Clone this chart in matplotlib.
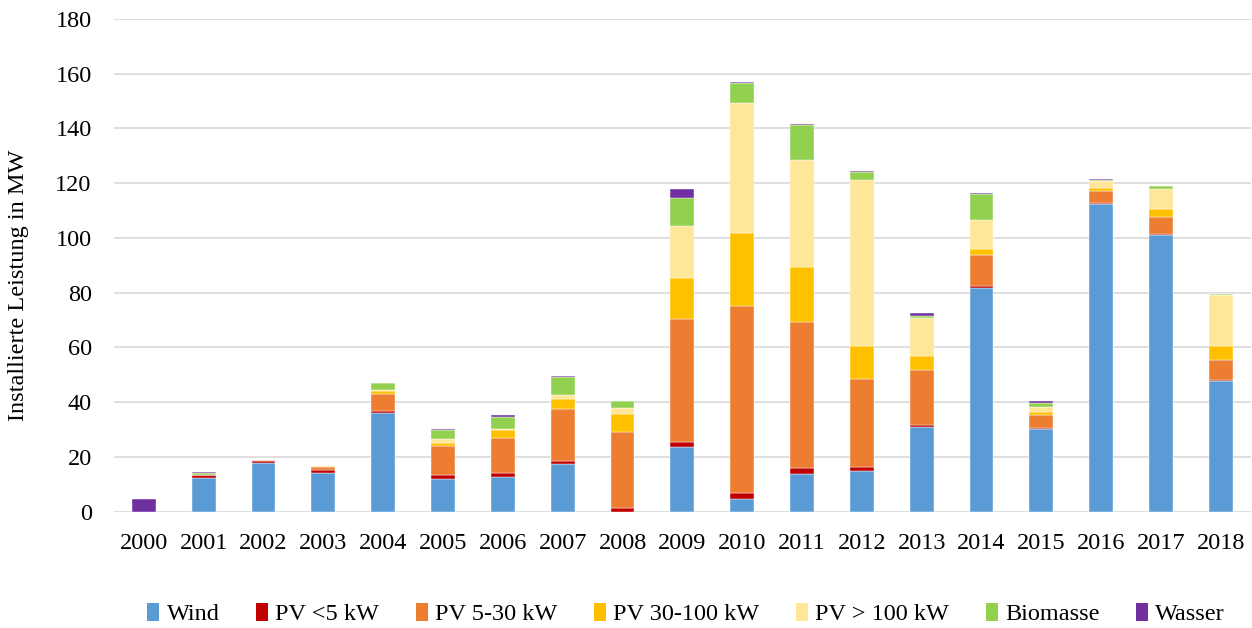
import matplotlib
matplotlib.use("Agg")
import matplotlib.pyplot as plt
import numpy as np
from matplotlib.patches import Patch

years = [str(y) for y in range(2000, 2019)]
wind     = [0, 12.5, 18.0, 14.2, 36.1, 11.9, 12.8, 17.4, 0, 23.8, 4.8, 13.9, 14.9, 30.8, 81.6, 30.1, 112.3, 101.0, 47.8]
pv_lt5   = [0, 0.8, 0.5, 0.9, 0.8, 1.4, 1.2, 1.3, 1.5, 1.7, 2.0, 2.2, 1.4, 1.0, 1.0, 0.6, 0.4, 0.5, 0.4]
pv_5_30  = [0, 0.1, 0.5, 1.3, 6.2, 10.6, 13.1, 18.9, 27.8, 45.0, 68.5, 53.3, 32.2, 20.1, 11.1, 4.7, 4.3, 6.2, 7.3]
pv_30_100= [0, 0, 0, 0.2, 1.1, 1.4, 2.6, 3.6, 6.5, 14.8, 26.4, 20.0, 12.0, 5.0, 2.4, 1.2, 1.2, 2.7, 5.1]
pv_gt100 = [0, 0, 0, 0.1, 0.3, 1.2, 0.6, 1.3, 2.0, 19.1, 47.6, 38.9, 60.8, 13.9, 10.4, 1.7, 2.5, 7.4, 18.4]
biomasse = [0, 0.8, 0, 0, 2.5, 3.2, 4.5, 6.8, 2.7, 10.1, 7.1, 12.9, 2.8, 0.7, 9.6, 1.6, 0.4, 1.3, 0.5]
wasser   = [4.8, 0.3, 0, 0, 0.2, 0.4, 0.6, 0.3, 0, 3.3, 0.7, 0.5, 0.3, 1.0, 0.3, 0.6, 0.4, 0, 0]

series_names = ["Wind", "PV <5 kW", "PV 5-30 kW", "PV 30-100 kW", "PV > 100 kW", "Biomasse", "Wasser"]
series_vals = [wind, pv_lt5, pv_5_30, pv_30_100, pv_gt100, biomasse, wasser]
colors = ["#5B9BD5", "#C00000", "#ED7D31", "#FFC000", "#FFE699", "#92D050", "#7030A0"]

plt.rcParams['font.family'] = ['Liberation Serif', 'DejaVu Serif']
FS = 17.5

fig = plt.figure(figsize=(12.52, 6.28), dpi=100)
ax = fig.add_axes([0.091, 0.185, 0.908, 0.785])

x = np.arange(len(years))
bottom = np.zeros(len(years))
for name, vals, c in zip(series_names, series_vals, colors):
    v = np.array(vals, dtype=float)
    ax.bar(x, v, bottom=bottom, width=0.4, color=c, edgecolor='white', linewidth=0.3, label=name, zorder=3)
    bottom += v

ax.set_xlim(-0.5, len(years) - 0.5)
ax.set_ylim(0, 180)
ax.set_yticks(np.arange(0, 181, 20))
ax.set_xticks(x)
ax.set_xticklabels(years)
ax.tick_params(axis='both', length=0, labelsize=FS, colors='black')
ax.tick_params(axis='x', pad=15)
ax.tick_params(axis='y', pad=16)
ax.grid(axis='y', color='#d9d9d9', linewidth=1.2, zorder=0)
for s in ax.spines.values():
    s.set_visible(False)
ax.set_ylabel("Installierte Leistung in MW", fontsize=FS, va='center')
ax.yaxis.set_label_coords(-0.0836, 0.46)

handles = [Patch(facecolor=c, edgecolor='none') for c in colors]
fig.legend(handles, series_names, loc='center', bbox_to_anchor=(0.548, 0.022), ncol=7,
           frameon=False, fontsize=FS, handlelength=0.5, handleheight=0.75,
           handletextpad=0.3, columnspacing=1.5)

fig.savefig("out.png", dpi=100)
